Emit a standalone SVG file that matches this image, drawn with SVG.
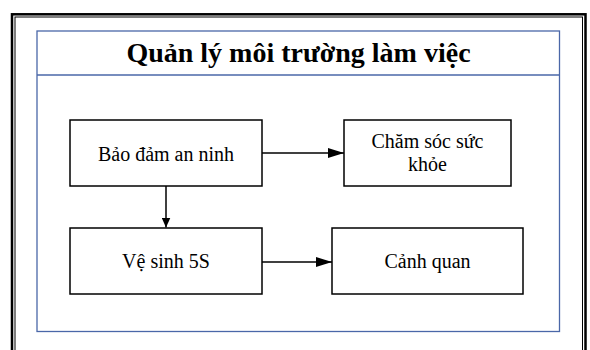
<svg xmlns="http://www.w3.org/2000/svg" width="590" height="350" viewBox="0 0 590 350">
  <style>
    .box { fill: #ffffff; stroke: #000000; stroke-width: 1.5; }
    .lbl { font-family: "Liberation Serif", "Times New Roman", serif; font-size: 20px; fill: #000000; text-anchor: middle; }
    .title { font-family: "Liberation Serif", "Times New Roman", serif; font-size: 28px; font-weight: bold; fill: #000000; text-anchor: middle; }
    .conn { stroke: #000000; stroke-width: 1.5; fill: none; }
  </style>
  <defs>
    <marker id="ah" markerUnits="userSpaceOnUse" markerWidth="16" markerHeight="10" refX="16" refY="5" orient="auto">
      <path d="M0,0 L16,5 L0,10 Z" fill="#000000"/>
    </marker>
    <marker id="av" markerUnits="userSpaceOnUse" markerWidth="10" markerHeight="9" refX="10" refY="4.5" orient="auto">
      <path d="M0,0 L10,4.5 L0,9 Z" fill="#000000"/>
    </marker>
  </defs>
  <rect x="0" y="0" width="590" height="350" fill="#ffffff"/>
  <g id="frame">
    <rect x="12" y="14.3" width="573.5" height="360" fill="none" stroke="#000000" stroke-width="2.5"/>
    <rect x="15" y="17" width="567.5" height="360" fill="none" stroke="#000000" stroke-width="1"/>
  </g>
  <g id="panel">
    <rect x="37" y="31" width="522.5" height="300.5" fill="#ffffff" stroke="#4a67a8" stroke-width="1.3"/>
    <line x1="37" y1="75" x2="559.5" y2="75" stroke="#4a67a8" stroke-width="1.3"/>
    <text class="title" x="298.5" y="62">Quản lý môi trường làm việc</text>
  </g>
  <g id="connectors">
    <line class="conn" x1="262" y1="153" x2="344" y2="153" marker-end="url(#ah)"/>
    <line class="conn" x1="166" y1="186" x2="166" y2="227.5" marker-end="url(#av)"/>
    <line class="conn" x1="262" y1="262" x2="332" y2="262" marker-end="url(#ah)"/>
  </g>
  <g id="node-bao-dam">
    <rect class="box" x="70" y="120" width="192" height="66"/>
    <text class="lbl" x="166" y="160.5">Bảo đảm an ninh</text>
  </g>
  <g id="node-cham-soc">
    <rect class="box" x="344" y="120" width="167" height="66"/>
    <text class="lbl" x="427.5" y="148">Chăm sóc sức</text>
    <text class="lbl" x="427.5" y="170.5">khỏe</text>
  </g>
  <g id="node-ve-sinh">
    <rect class="box" x="70" y="228" width="192" height="66"/>
    <text class="lbl" x="166" y="267.5">Vệ sinh 5S</text>
  </g>
  <g id="node-canh-quan">
    <rect class="box" x="332" y="228" width="191" height="66"/>
    <text class="lbl" x="427.5" y="267.5">Cảnh quan</text>
  </g>
</svg>
